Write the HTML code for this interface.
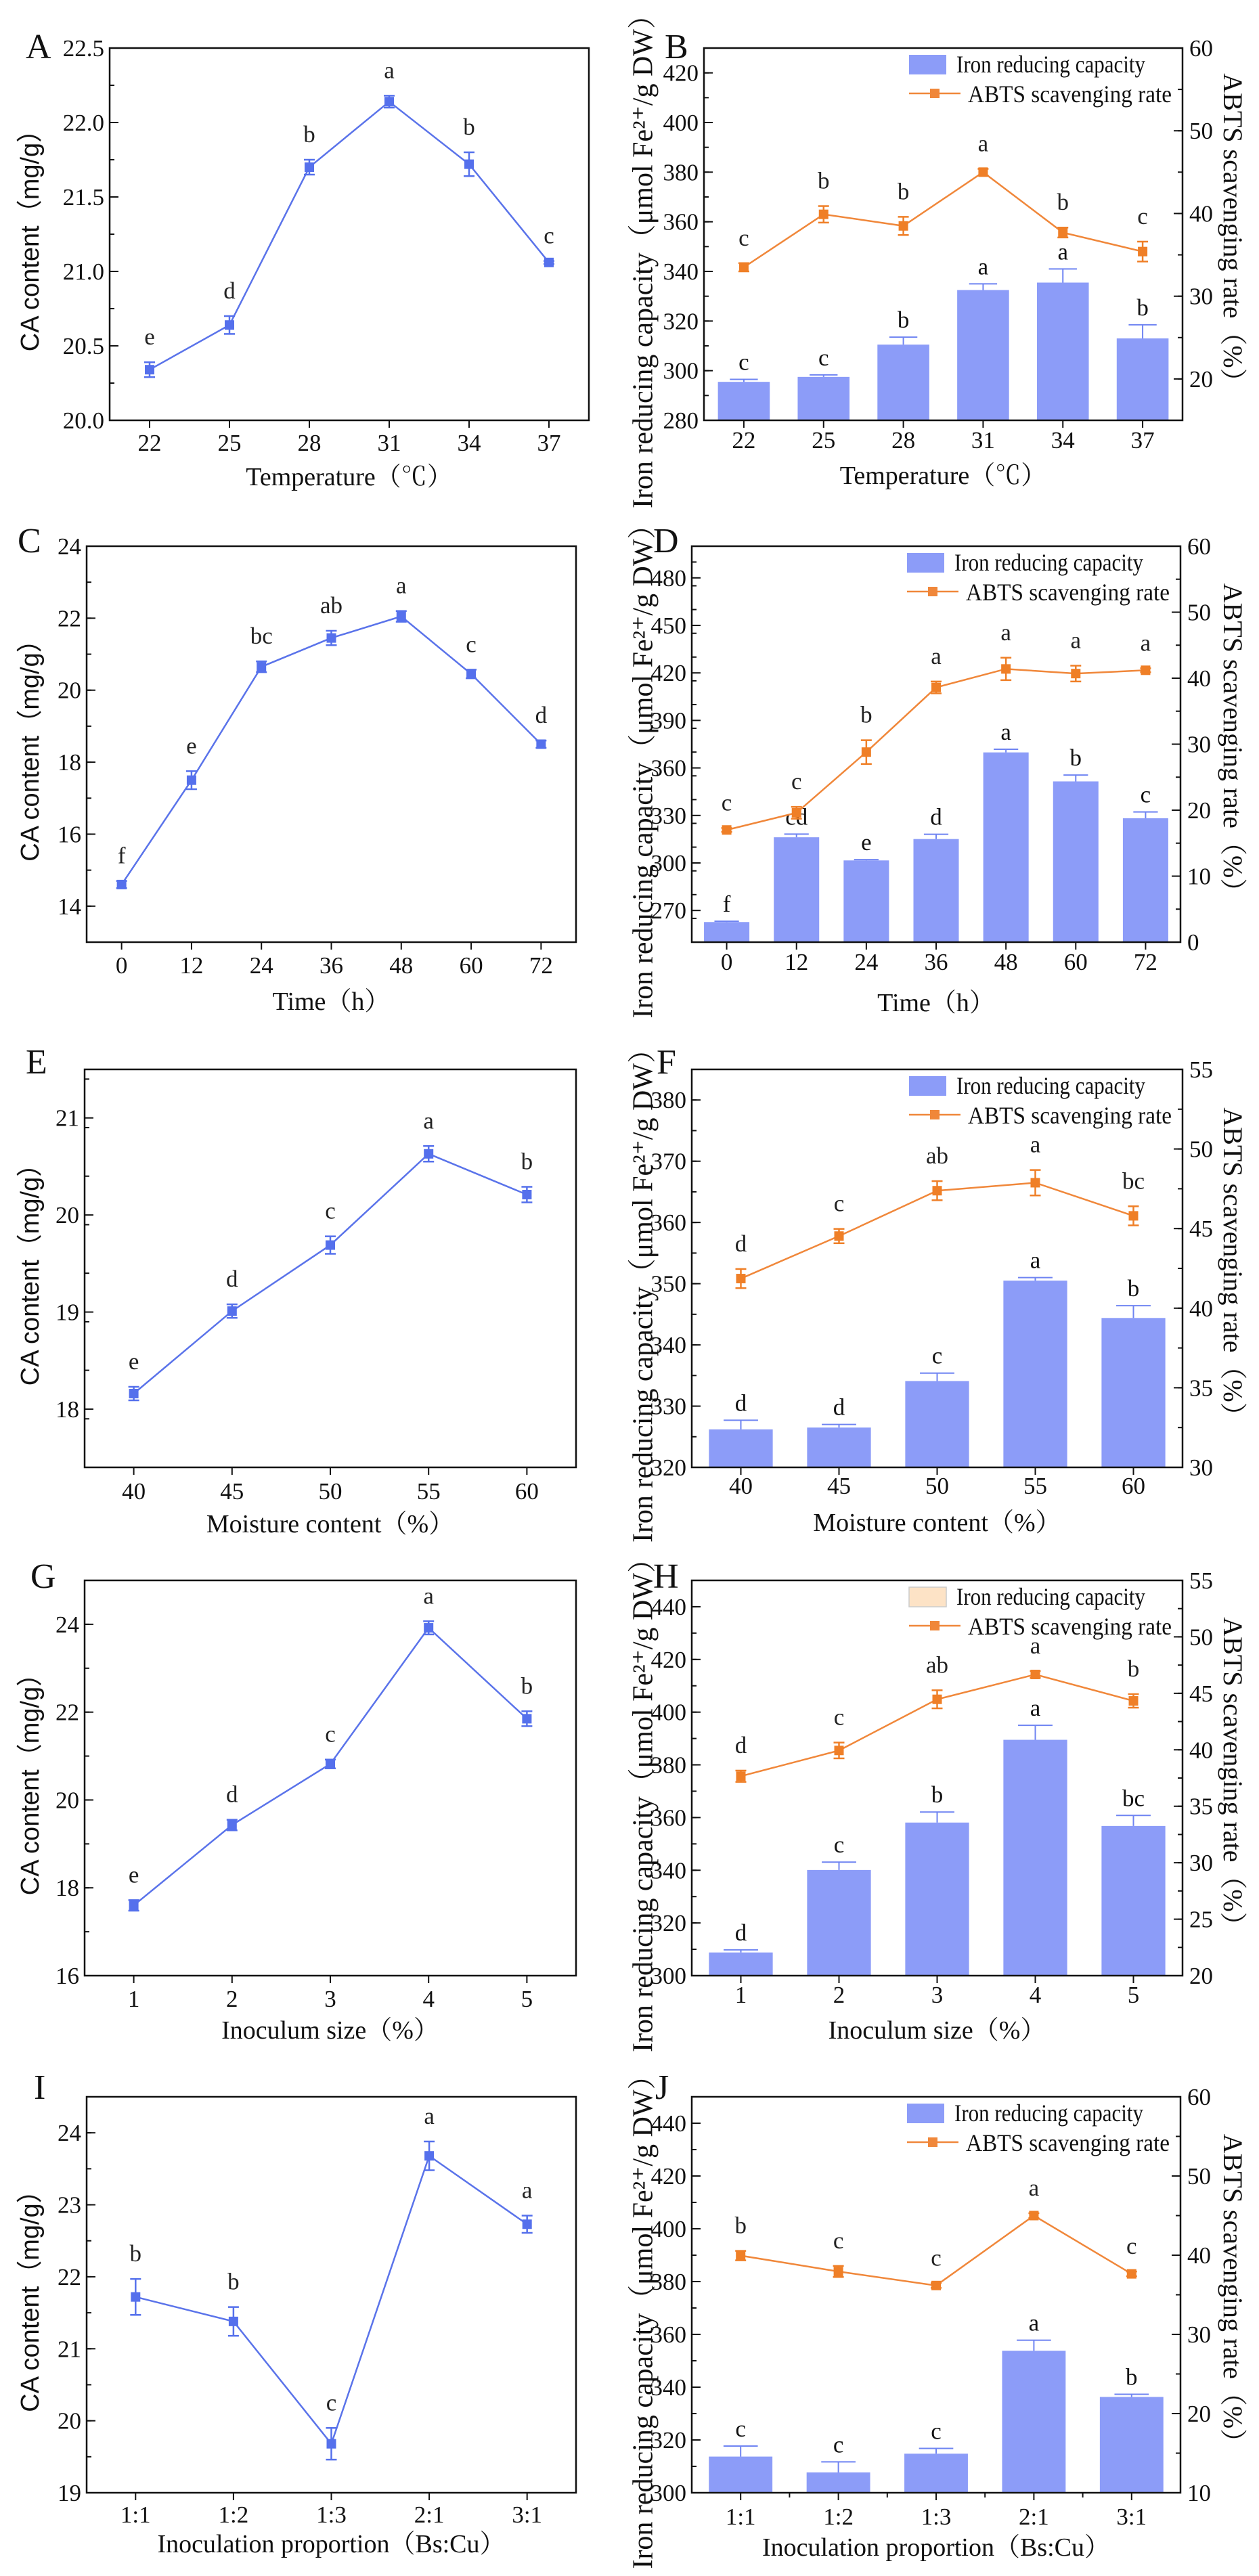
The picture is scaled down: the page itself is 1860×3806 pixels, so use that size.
<!DOCTYPE html>
<html><head><meta charset="utf-8"><style>
html,body{margin:0;padding:0;background:#fff;}
svg{display:block;}
</style></head><body>
<svg id="fig" xmlns="http://www.w3.org/2000/svg" width="1860" height="3806" viewBox="0 0 1860 3806"></svg>
<script>
// ---------- Panel A ----------
const A_categories = ["22","25","28","31","34","37"];
const A_values = [20.34,20.64,21.70,22.14,21.72,21.06];
const A_errors = [0.05,0.06,0.05,0.04,0.08,0.01];
const A_letters = ["e","d","b","a","b","c"];
const A_yTicks = ["20.0","20.5","21.0","21.5","22.0","22.5"];
// ---------- Panel B ----------
const B_categories = ["22","25","28","31","34","37"];
const B_bars = [295.5,297.5,310.5,332.5,335.5,313];
const B_barErrors = [1,0.8,3,2.5,5.5,5.5];
const B_barLetters = ["c","c","b","a","a","b"];
const B_abts = [33.5,39.9,38.5,45.0,37.7,35.4];
const B_abtsErrors = [0.5,1.0,1.1,0.4,0.6,1.2];
const B_abtsLetters = ["c","b","b","a","b","c"];
const B_leftTicks = ["280","300","320","340","360","380","400","420"];
const B_rightTicks = ["20","30","40","50","60"];
// ---------- Panel C ----------
const C_categories = ["0","12","24","36","48","60","72"];
const C_values = [14.6,17.5,20.65,21.45,22.05,20.45,18.5];
const C_errors = [0.1,0.25,0.15,0.2,0.15,0.12,0.1];
const C_letters = ["f","e","bc","ab","a","c","d"];
const C_yTicks = ["14","16","18","20","22","24"];
// ---------- Panel D ----------
const D_categories = ["0","12","24","36","48","60","72"];
const D_bars = [262.7,316.2,301.6,315.1,369.8,351.5,328.2];
const D_barErrors = [0.5,2,0.5,3,2,4,4];
const D_barLetters = ["f","cd","e","d","a","b","c"];
const D_abts = [17.0,19.6,28.8,38.6,41.4,40.7,41.2];
const D_abtsErrors = [0.3,0.9,1.8,0.9,1.7,1.2,0.3];
const D_abtsLetters = ["c","c","b","a","a","a","a"];
const D_leftTicks = ["270","300","330","360","390","420","450","480"];
const D_rightTicks = ["0","10","20","30","40","50","60"];
// ---------- Panel E ----------
const E_categories = ["40","45","50","55","60"];
const E_values = [18.16,19.01,19.69,20.63,20.21];
const E_errors = [0.07,0.07,0.09,0.08,0.08];
const E_letters = ["e","d","c","a","b"];
const E_yTicks = ["18","19","20","21"];
// ---------- Panel F ----------
const F_categories = ["40","45","50","55","60"];
const F_bars = [326.2,326.5,334.1,350.5,344.4];
const F_barErrors = [1.5,0.5,1.3,0.5,2];
const F_barLetters = ["d","d","c","a","b"];
const F_abts = [41.86,44.53,47.38,47.88,45.8];
const F_abtsErrors = [0.6,0.45,0.6,0.8,0.6];
const F_abtsLetters = ["d","c","ab","a","bc"];
const F_leftTicks = ["320","330","340","350","360","370","380"];
const F_rightTicks = ["30","35","40","45","50","55"];
// ---------- Panel G ----------
const G_categories = ["1","2","3","4","5"];
const G_values = [17.6,19.43,20.82,23.92,21.85];
const G_errors = [0.12,0.12,0.1,0.15,0.17];
const G_letters = ["e","d","c","a","b"];
const G_yTicks = ["16","18","20","22","24"];
// ---------- Panel H ----------
const H_categories = ["1","2","3","4","5"];
const H_bars = [308.8,340.1,358.1,389.5,356.8];
const H_barErrors = [1,3,4,5.5,4];
const H_barLetters = ["d","c","b","a","bc"];
const H_abts = [37.66,39.94,44.47,46.67,44.33];
const H_abtsErrors = [0.5,0.7,0.8,0.3,0.6];
const H_abtsLetters = ["d","c","ab","a","b"];
const H_leftTicks = ["300","320","340","360","380","400","420","440"];
const H_rightTicks = ["20","25","30","35","40","45","50","55"];
// ---------- Panel I ----------
const I_categories = ["1:1","1:2","1:3","2:1","3:1"];
const I_values = [21.72,21.38,19.68,23.68,22.73];
const I_errors = [0.25,0.2,0.22,0.2,0.12];
const I_letters = ["b","b","c","a","a"];
const I_yTicks = ["19","20","21","22","23","24"];
// ---------- Panel J ----------
const J_categories = ["1:1","1:2","1:3","2:1","3:1"];
const J_bars = [313.7,307.7,314.8,353.8,336.3];
const J_barErrors = [4,4,2,4,1];
const J_barLetters = ["c","c","c","a","b"];
const J_abts = [39.95,37.94,36.17,45.0,37.64];
const J_abtsErrors = [0.6,0.7,0.3,0.3,0.3];
const J_abtsLetters = ["b","c","c","a","c"];
const J_leftTicks = ["300","320","340","360","380","400","420","440"];
const J_rightTicks = ["10","20","30","40","50","60"];

const NS = "http://www.w3.org/2000/svg";
const svg = document.getElementById("fig");
const SERIF = '"Liberation Serif","Noto Serif CJK SC",serif';
const SANS = '"Liberation Sans","Noto Sans CJK SC",sans-serif';
const BLUE = "#5570ec", BAR = "#8c9cf8", ORANGE = "#f0873a";

function mk(tag, attrs, parent, text){
  const e = document.createElementNS(NS, tag);
  for (const k in attrs) e.setAttribute(k, attrs[k]);
  if (text !== undefined) e.textContent = text;
  (parent || svg).appendChild(e);
  return e;
}
function line(g,x1,y1,x2,y2,stroke,w){return mk("line",{x1,y1,x2,y2,stroke,"stroke-width":w},g);}

function frame(g,f){
  const r = mk("rect",{x:f.l,y:f.t,width:f.r-f.l,height:f.b-f.t,fill:"none",stroke:"#111","stroke-width":2.5},g);
  
  
}
function yAxis(g,f,ticks,min,max,minorStep,side,name){
  const sy = v => f.b - (v-min)/(max-min)*(f.b-f.t);
  const ax = mk("g",{},g);
  
  
  const x0 = side==="left"?f.l:f.r, dir = side==="left"?1:-1;
  for (let v=min; v<=max+1e-9; v+=minorStep){
    line(ax,x0,sy(v),x0+dir*7,sy(v),"#111",2);
  }
  ticks.forEach(t=>{
    const v = parseFloat(t), y = sy(v);
    line(ax,x0,y,x0+dir*13,y,"#111",2);
    const tx = mk("text",{x: side==="left"? f.l-8 : f.r+10, y:y+12, "font-family":SERIF,"font-size":35,fill:"#111","text-anchor":side==="left"?"end":"start"},ax,t);
    
    
  });
  return sy;
}
function xAxis(g,f,cats,labelY,minor){
  const n = cats.length, bw = (f.r-f.l)/n;
  const sx = i => f.l + bw*(i+0.5);
  const ax = mk("g",{},g);
  
  
  cats.forEach((c,i)=>{
    line(ax,sx(i),f.b,sx(i),f.b+11,"#111",2);
    if (minor && i>0) line(ax,f.l+bw*i,f.b,f.l+bw*i,f.b+7,"#111",2);
    const tx = mk("text",{x:sx(i),y:labelY+12,"font-family":SERIF,"font-size":35,fill:"#111","text-anchor":"middle"},ax,c);
    
    
  });
  return {sx,bw};
}
function label(g,x,y,txt,opts,name){
  const t = mk("text",Object.assign({x,y,fill:"#111"},opts),g,txt);
  
  
  return t;
}
function lineSeries(g,sx,sy,vals,errs,letters,color,mcolor,off,name){
  const s = mk("g",{},g);
  
  
  const pts = vals.map((v,i)=>sx(i)+","+sy(v)).join(" ");
  mk("polyline",{points:pts,fill:"none",stroke:color,"stroke-width":2.5},s);
  vals.forEach((v,i)=>{
    const x=sx(i), yt=sy(v+errs[i]), yb=sy(v-errs[i]);
    line(s,x,yt,x,yb,mcolor,2.5);
    line(s,x-8,yt,x+8,yt,mcolor,2.5);
    line(s,x-8,yb,x+8,yb,mcolor,2.5);
    const m = mk("rect",{x:x-7,y:sy(v)-7,width:14,height:14,fill:mcolor},s);
    
    
    const lt = mk("text",{x:x,y:yt-off,"font-family":SERIF,"font-size":35,fill:"#222","text-anchor":"middle"},s,letters[i]);
    
    
  });
}
function barSeries(g,sx,bw,sy,base,vals,errs,letters){
  const s = mk("g",{},g);
  
  
  const w = bw*0.65;
  vals.forEach((v,i)=>{
    const x=sx(i), y=sy(v), yb=sy(base), ye=sy(v+errs[i]);
    const b = mk("rect",{x:x-w/2,y:y,width:w,height:yb-y,fill:BAR},s);
    
    
    line(s,x,y,x,ye,"#6f84f2",2);
    line(s,x-w*0.27,ye,x+w*0.27,ye,"#6f84f2",2);
    const lt = mk("text",{x:x,y:ye-14,"font-family":SERIF,"font-size":35,fill:"#111","text-anchor":"middle"},s,letters[i]);
    
    
  });
}
function legend(g,f,peach){
  const lg = mk("g",{},g);
  
  
  const s1 = f.r-55-279, s2 = f.r-16-301;
  label(lg,s1,f.t+36,"Iron reducing capacity",{"font-family":SERIF,"font-size":36,textLength:279,lengthAdjust:"spacingAndGlyphs"},"legend-entry-iron");
  label(lg,s2,f.t+80,"ABTS scavenging rate",{"font-family":SERIF,"font-size":36,textLength:301,lengthAdjust:"spacingAndGlyphs"},"legend-entry-abts");
  mk("rect",{x:s1-70,y:f.t+10,width:55,height:29,fill:peach?"#fde3c6":BAR,stroke:peach?"#ccc":"none","stroke-width":1.5},lg);
  line(lg,s2-87,f.t+67,s2-11,f.t+67,ORANGE,2.5);
  mk("rect",{x:s2-56,y:f.t+60,width:14,height:14,fill:ORANGE},lg);
}

function leftPanel(o){
  const g = mk("g",{});
  
  
  const f=o.f;
  const sy = yAxis(g,f,o.yTicks,o.min,o.max,o.minor,"left","y-axis");
  const {sx} = xAxis(g,f,o.cats,o.labelY,false);
  frame(g,f);
  lineSeries(g,sx,sy,o.vals,o.errs,o.letters,"#5a73ea",BLUE,26,"ca-content-line");
  label(g,o.lx,o.ly,o.id,{"font-family":SERIF,"font-size":52},"panel-letter");
  const cy=(f.t+f.b)/2;
  label(g,47,cy,"CA content（mg/g）",{"font-family":SANS,"font-size":38,"text-anchor":"middle",transform:`rotate(-90 47 ${cy})`,"dominant-baseline":"middle"},"y-axis-title");
  label(g,(f.l+f.r)/2,o.titleY+12,o.xTitle,{"font-family":SERIF,"font-size":38,"text-anchor":"middle"},"x-axis-title");
}
function rightPanel(o){
  const g = mk("g",{});
  
  
  const f=o.f;
  const syL = yAxis(g,f,o.lTicks,o.lmin,o.lmax,o.lminor,"left","left-y-axis");
  const syR = yAxis(g,f,o.rTicks,o.rmin,o.rmax,o.rminor,"right","right-y-axis");
  const {sx,bw} = xAxis(g,f,o.cats,o.labelY,o.xminor);
  barSeries(g,sx,bw,syL,o.lmin,o.bars,o.barErrs,o.barLetters);
  lineSeries(g,sx,syR,o.abts,o.abtsErrs,o.abtsLetters,ORANGE,"#ef7f27",26,"abts-line");
  frame(g,f);
  legend(g,f,o.peach);
  label(g,o.lx,o.ly,o.id,{"font-family":SERIF,"font-size":52},"panel-letter");
  const cy=(f.t+f.b)/2;
  label(g,954,cy+30,"Iron reducing capacity（μmol Fe²⁺/g DW）",{"font-family":SERIF,"font-size":42,"text-anchor":"middle",transform:`rotate(-90 954 ${cy+30})`,"dominant-baseline":"middle"},"left-y-axis-title");
  label(g,1817,cy,"ABTS scavenging rate（%）",{"font-family":SERIF,"font-size":40,"text-anchor":"middle",transform:`rotate(90 1817 ${cy})`,"dominant-baseline":"middle"},"right-y-axis-title");
  label(g,(f.l+f.r)/2,o.titleY+12,o.xTitle,{"font-family":SERIF,"font-size":38,"text-anchor":"middle"},"x-axis-title");
}

leftPanel({id:"A",f:{l:162,r:870,t:71,b:621},cats:A_categories,vals:A_values,errs:A_errors,letters:A_letters,yTicks:A_yTicks,min:20,max:22.5,minor:0.25,labelY:654,titleY:705,xTitle:"Temperature（℃）",lx:38,ly:86});
rightPanel({id:"B",f:{l:1040,r:1747,t:71,b:621},cats:B_categories,bars:B_bars,barErrs:B_barErrors,barLetters:B_barLetters,abts:B_abts,abtsErrs:B_abtsErrors,abtsLetters:B_abtsLetters,lTicks:B_leftTicks,lmin:280,lmax:430,lminor:10,rTicks:B_rightTicks,rmin:15,rmax:60,rminor:5,labelY:650,titleY:703,xTitle:"Temperature（℃）",lx:982,ly:86});
leftPanel({id:"C",f:{l:128,r:851,t:807,b:1392},cats:C_categories,vals:C_values,errs:C_errors,letters:C_letters,yTicks:C_yTicks,min:13,max:24,minor:1,labelY:1426,titleY:1480,xTitle:"Time（h）",lx:26,ly:816});
rightPanel({id:"D",f:{l:1022,r:1744,t:807,b:1392},cats:D_categories,bars:D_bars,barErrs:D_barErrors,barLetters:D_barLetters,abts:D_abts,abtsErrs:D_abtsErrors,abtsLetters:D_abtsLetters,lTicks:D_leftTicks,lmin:250,lmax:500,lminor:15,rTicks:D_rightTicks,rmin:0,rmax:60,rminor:5,labelY:1421,titleY:1482,xTitle:"Time（h）",lx:965,ly:816});
leftPanel({id:"E",f:{l:125,r:851,t:1580,b:2168},cats:E_categories,vals:E_values,errs:E_errors,letters:E_letters,yTicks:E_yTicks,min:17.4,max:21.5,minor:0.5,labelY:2203,titleY:2252,xTitle:"Moisture content（%）",lx:38,ly:1586});
rightPanel({id:"F",f:{l:1022,r:1747,t:1580,b:2168},cats:F_categories,bars:F_bars,barErrs:F_barErrors,barLetters:F_barLetters,abts:F_abts,abtsErrs:F_abtsErrors,abtsLetters:F_abtsLetters,lTicks:F_leftTicks,lmin:320,lmax:385,lminor:5,rTicks:F_rightTicks,rmin:30,rmax:55,rminor:2.5,labelY:2195,titleY:2250,xTitle:"Moisture content（%）",lx:970,ly:1586});
leftPanel({id:"G",f:{l:125,r:851,t:2335,b:2919},cats:G_categories,vals:G_values,errs:G_errors,letters:G_letters,yTicks:G_yTicks,min:16,max:25,minor:1,labelY:2953,titleY:3000,xTitle:"Inoculum size（%）",lx:45,ly:2346});
rightPanel({id:"H",f:{l:1022,r:1747,t:2335,b:2919},cats:H_categories,bars:H_bars,barErrs:H_barErrors,barLetters:H_barLetters,abts:H_abts,abtsErrs:H_abtsErrors,abtsLetters:H_abtsLetters,lTicks:H_leftTicks,lmin:300,lmax:450,lminor:10,rTicks:H_rightTicks,rmin:20,rmax:55,rminor:2.5,labelY:2947,titleY:3000,xTitle:"Inoculum size（%）",peach:true,lx:965,ly:2346});
leftPanel({id:"I",f:{l:128,r:851,t:3098,b:3683},cats:I_categories,vals:I_values,errs:I_errors,letters:I_letters,yTicks:I_yTicks,min:19,max:24.5,minor:0.5,labelY:3715,titleY:3759,xTitle:"Inoculation proportion（Bs:Cu）",lx:50,ly:3101});
rightPanel({id:"J",f:{l:1022,r:1744,t:3098,b:3683},cats:J_categories,bars:J_bars,barErrs:J_barErrors,barLetters:J_barLetters,abts:J_abts,abtsErrs:J_abtsErrors,abtsLetters:J_abtsLetters,lTicks:J_leftTicks,lmin:300,lmax:450,lminor:10,rTicks:J_rightTicks,rmin:10,rmax:60,rminor:5,labelY:3718,titleY:3764,xTitle:"Inoculation proportion（Bs:Cu）",xminor:true,lx:968,ly:3101});
</script>
</body></html>
